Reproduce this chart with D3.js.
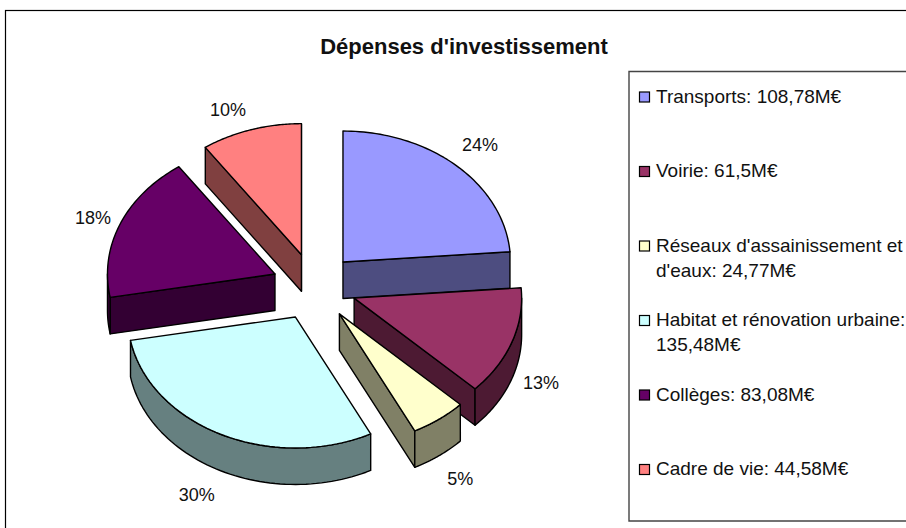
<!DOCTYPE html>
<html>
<head>
<meta charset="utf-8">
<title>Dépenses d'investissement</title>
<script src="https://cdnjs.cloudflare.com/ajax/libs/d3/7.8.5/d3.min.js"></script>
<style>
  html, body { margin: 0; padding: 0; background: #fff; overflow: hidden; }
  svg { display: block; }
  text { font-family: "Liberation Sans", Arial, sans-serif; fill: #111; }
</style>
</head>
<body>
<script>
/* global d3 */
var title = "Dépenses d'investissement"
var categories = ['Transports', 'Voirie', "Réseaux d'assainissement et d'eaux", 'Habitat et rénovation urbaine', 'Collèges', 'Cadre de vie']
var values = [108.78, 61.5, 24.77, 135.48, 83.08, 44.58]
var topColors = ['#9999ff', '#993366', '#ffffcc', '#ccffff', '#660066', '#ff8080']
var drawOrder = [5, 0, 4, 1, 2, 3]

var dim = { w: 906, h: 528 }
var pie3d = { cx: 314.2, cy: 286.8, rx: 167.5, ry: 131, depth: 36.5, explodeX: 42.4, explodeY: 33.7 }
var legendBox = { x: 629, y: 71.5, bottom: 521, swatch: 10, textX: 656, wrap: 252, lineH: 25 }

var svg = d3.select('body').append('svg')
  .attr('width', dim.w)
  .attr('height', dim.h)

svg.append('rect')
  .attr('x', 5.5).attr('y', 10.5)
  .attr('width', dim.w + 20).attr('height', dim.h + 20)
  .attr('fill', '#fff').attr('stroke', '#000').attr('stroke-width', 1.2)

svg.append('text')
  .attr('x', 464).attr('y', 54)
  .attr('text-anchor', 'middle')
  .attr('font-size', 22)
  .attr('font-weight', 'bold')
  .text(title)

// unit circle -> ellipse on screen
var sx = d3.scaleLinear().domain([-1, 1]).range([-pie3d.rx, pie3d.rx])
var sy = d3.scaleLinear().domain([-1, 1]).range([-pie3d.ry, pie3d.ry])

var arcs = d3.pie().sort(null).value(function (d) { return d })(values)
var total = d3.sum(values)
var line = d3.line()

function rim (a) {
  return [sx(Math.sin(a)), sy(-Math.cos(a))]
}

function rimPoints (a0, a1) {
  return d3.range(0, 61).map(function (i) {
    return rim(a0 + (a1 - a0) * i / 60)
  })
}

function down (p) {
  return [p[0], p[1] + pie3d.depth]
}

function faces (arc) {
  var a0 = arc.startAngle
  var a1 = arc.endAngle
  var walls = []

  // radial cuts that look towards the viewer
  if (Math.sin(a1) > 0) walls.push([[0, 0], rim(a1), down(rim(a1)), [0, pie3d.depth]])
  if (Math.sin(a0) < 0) walls.push([[0, 0], rim(a0), down(rim(a0)), [0, pie3d.depth]])

  // outer rim, front half only
  var from = Math.max(a0, Math.PI / 2)
  var to = Math.min(a1, Math.PI * 1.5)
  if (to > from) {
    var pts = rimPoints(from, to)
    walls.push(pts.concat(pts.map(down).reverse()))
  }
  return walls
}

// percent labels sit outside the slice, lower ones also clear the wall
function labelX (s) {
  return s > 0 ? 190 * s + 8 : 174 * s - 21
}

function labelY (s, c) {
  if (s < 0) return -155 * c + (c < 0 ? pie3d.depth : 0) + 3
  return c > 0 ? -160 * c : -172 * c + 27
}

var chart = svg.append('g').attr('class', 'chart')

drawOrder.forEach(function (i) {
  var arc = arcs[i]
  var mid = (arc.startAngle + arc.endAngle) / 2
  var g = chart.append('g')
    .attr('transform', 'translate(' + (pie3d.cx + pie3d.explodeX * Math.sin(mid)) + ',' +
      (pie3d.cy - pie3d.explodeY * Math.cos(mid)) + ')')

  g.selectAll('path.wall').data(faces(arc)).enter().append('path')
    .attr('class', 'wall')
    .attr('d', function (d) { return line(d) + 'Z' })
    .attr('fill', d3.interpolateRgb(topColors[i], '#000')(0.5))
    .attr('stroke', '#000')
    .attr('stroke-width', 1.4)
    .attr('stroke-linejoin', 'round')

  g.append('path')
    .attr('d', line([[0, 0]].concat(rimPoints(arc.startAngle, arc.endAngle))) + 'Z')
    .attr('fill', topColors[i])
    .attr('stroke', '#000')
    .attr('stroke-width', 1.4)
    .attr('stroke-linejoin', 'round')

  g.append('text')
    .attr('x', labelX(Math.sin(mid)))
    .attr('y', labelY(Math.sin(mid), Math.cos(mid)))
    .attr('dy', '0.35em')
    .attr('text-anchor', 'middle')
    .attr('font-size', 18)
    .text(d3.format('.0f')(values[i] / total * 100) + '%')
})

// legend
var legendY = d3.scalePoint().domain(categories).range([97, 469.5])

svg.append('path')
  .attr('d', 'M' + dim.w + ',' + legendBox.y + 'H' + legendBox.x + 'V' + legendBox.bottom + 'H' + dim.w)
  .attr('fill', 'none')
  .attr('stroke', '#444')
  .attr('stroke-width', 1.4)

var rows = svg.selectAll('g.legend-row').data(categories).enter().append('g')
  .attr('class', 'legend-row')
  .attr('transform', function (d) { return 'translate(0,' + legendY(d) + ')' })

rows.append('rect')
  .attr('x', legendBox.x + 10.5)
  .attr('y', -legendBox.swatch / 2)
  .attr('width', legendBox.swatch)
  .attr('height', legendBox.swatch)
  .attr('fill', function (d, i) { return topColors[i] })
  .attr('stroke', '#000')
  .attr('stroke-width', 1.2)

rows.append('text')
  .attr('x', legendBox.textX)
  .attr('y', -1)
  .attr('dy', '0.35em')
  .attr('font-size', 19)
  .each(function (d, i) {
    var label = d + ': ' + String(values[i]).replace('.', ',') + 'M€'
    wrap(d3.select(this), label.split(' '), legendBox.wrap)
  })

function wrap (el, words, width) {
  var tspan = el.append('tspan').attr('x', legendBox.textX)
  var cur = []
  words.forEach(function (w) {
    cur.push(w)
    tspan.text(cur.join(' '))
    if (tspan.node().getComputedTextLength() > width && cur.length > 1) {
      cur.pop()
      tspan.text(cur.join(' '))
      cur = [w]
      tspan = el.append('tspan').attr('x', legendBox.textX).attr('dy', legendBox.lineH).text(w)
    }
  })
}
</script>
</body>
</html>
